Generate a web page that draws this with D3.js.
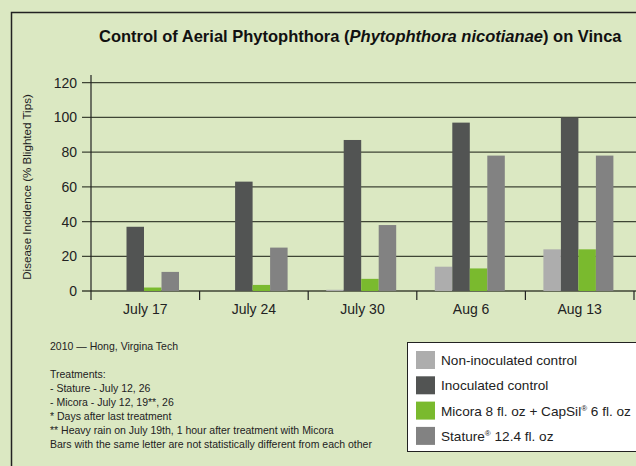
<!DOCTYPE html>
<html>
<head>
<meta charset="utf-8">
<script src="https://cdn.jsdelivr.net/npm/d3@7"></script>
<style>
  body { margin: 0; background: #dbe8c2; }
  svg { display: block; font-family: "Liberation Sans", Arial, sans-serif; }
</style>
</head>
<body>
<svg id="chart" width="636" height="466"></svg>
<script>
// Data
const dates = ["July 17", "July 24", "July 30", "Aug 6", "Aug 13"];
const seriesNames = ["nonInoc", "inoc", "micora", "stature"];
const nonInoculated = [0, 0, 0.7, 14, 24];
const inoculated = [37, 63, 87, 97, 100];
const micoraCapsil = [2, 3.5, 7, 13, 24];
const stature = [11, 25, 38, 78, 78];
const yTicks = [0, 20, 40, 60, 80, 100, 120];
const colors = ["#adadad", "#525453", "#7aba2e", "#828282"];
const notes = [
  "Treatments:",
  "- Stature - July 12, 26",
  "- Micora - July 12, 19**, 26",
  "* Days after last treatment",
  "** Heavy rain on July 19th, 1 hour after treatment with Micora",
  "Bars with the same letter are not statistically different from each other"
];

const values = [nonInoculated, inoculated, micoraCapsil, stature];
const rows = dates.map((d, i) => ({ date: d, vals: values.map(v => v[i]) }));

const svg = d3.select("#chart");

// Frame
svg.append("path")
    .attr("d", "M11.5,470 L11.5,12.5 L640,12.5")
    .attr("fill", "none")
    .attr("stroke", "#222")
    .attr("stroke-width", 1.5);

// Title
const title = svg.append("text")
    .attr("x", 99)
    .attr("y", 42)
    .attr("font-size", 16.5)
    .attr("font-weight", "bold")
    .attr("fill", "#111");
title.append("tspan").text("Control of Aerial Phytophthora (");
title.append("tspan").attr("font-style", "italic").text("Phytophthora nicotianae");
title.append("tspan").text(") on Vinca");

// Scales
const x0 = d3.scaleBand().domain(dates).range([91, 634]).padding(0);
const x1 = d3.scaleBand().domain(seriesNames).range([18, 88]).padding(0);
const y = d3.scaleLinear().domain([0, 120]).range([291, 82.7]);

// Gridlines
svg.append("g")
    .selectAll("line")
    .data(yTicks)
    .join("line")
    .attr("x1", 82)
    .attr("x2", 640)
    .attr("y1", d => y(d))
    .attr("y2", d => y(d))
    .attr("stroke", "#3f4535")
    .attr("stroke-width", 1.3);

// Y tick labels
svg.append("g")
    .selectAll("text")
    .data(yTicks)
    .join("text")
    .attr("x", 77)
    .attr("y", d => y(d) + 5)
    .attr("text-anchor", "end")
    .attr("font-size", 14)
    .attr("fill", "#222")
    .text(d => d);

// Y axis line
svg.append("line")
    .attr("x1", 91).attr("x2", 91)
    .attr("y1", 75).attr("y2", 300)
    .attr("stroke", "#222")
    .attr("stroke-width", 1.2);

// Category ticks
svg.append("g")
    .selectAll("line")
    .data(dates)
    .join("line")
    .attr("x1", d => x0(d) + x0.bandwidth())
    .attr("x2", d => x0(d) + x0.bandwidth())
    .attr("y1", 291)
    .attr("y2", 300)
    .attr("stroke", "#222")
    .attr("stroke-width", 1.2);

// Bars
svg.append("g")
    .selectAll("g")
    .data(rows)
    .join("g")
    .attr("transform", d => `translate(${x0(d.date)},0)`)
    .selectAll("rect")
    .data(d => d.vals.map((v, k) => ({ key: seriesNames[k], v, k })))
    .join("rect")
    .attr("x", d => x1(d.key))
    .attr("width", x1.bandwidth())
    .attr("y", d => y(d.v))
    .attr("height", d => y(0) - y(d.v))
    .attr("fill", d => colors[d.k]);

// X labels
svg.append("g")
    .selectAll("text")
    .data(dates)
    .join("text")
    .attr("x", d => x0(d) + x0.bandwidth() / 2)
    .attr("y", 314)
    .attr("text-anchor", "middle")
    .attr("font-size", 14)
    .attr("fill", "#222")
    .text(d => d);

// Y axis title
svg.append("text")
    .attr("transform", "translate(31,187) rotate(-90)")
    .attr("text-anchor", "middle")
    .attr("font-size", 11.6)
    .attr("fill", "#222")
    .text("Disease Incidence (% Blighted Tips)");

// Notes
svg.append("text")
    .attr("x", 50).attr("y", 350)
    .attr("font-size", 10.5)
    .attr("fill", "#222")
    .text("2010 \u2014 Hong, Virgina Tech");

svg.append("g")
    .selectAll("text")
    .data(notes)
    .join("text")
    .attr("x", 50)
    .attr("y", (d, i) => 378 + i * 14)
    .attr("font-size", 10.5)
    .attr("fill", "#222")
    .text(d => d);

// Legend
const legend = svg.append("g");
legend.append("rect")
    .attr("x", 407.5).attr("y", 342.5)
    .attr("width", 240).attr("height", 109)
    .attr("fill", "#fff")
    .attr("stroke", "#222")
    .attr("stroke-width", 1);

const legendItems = legend.selectAll("g")
    .data(seriesNames)
    .join("g")
    .attr("transform", (d, i) => `translate(416,${351 + i * 25.3})`);

legendItems.append("rect")
    .attr("width", 19).attr("height", 18)
    .attr("fill", (d, i) => colors[i]);

const legendText = legendItems.append("text")
    .attr("x", 25).attr("y", 14)
    .attr("font-size", 13.6)
    .attr("fill", "#222");

legendText.each(function(d, i) {
  const t = d3.select(this);
  if (i === 0) t.text("Non-inoculated control");
  else if (i === 1) t.text("Inoculated control");
  else if (i === 2) {
    t.append("tspan").text("Micora 8 fl. oz + CapSil");
    t.append("tspan").attr("font-size", 8).attr("dy", -5).text("\u00ae");
    t.append("tspan").attr("dy", 5).text(" 6 fl. oz");
  } else {
    t.append("tspan").text("Stature");
    t.append("tspan").attr("font-size", 8).attr("dy", -5).text("\u00ae");
    t.append("tspan").attr("dy", 5).text(" 12.4 fl. oz");
  }
});
</script>
</body>
</html>
